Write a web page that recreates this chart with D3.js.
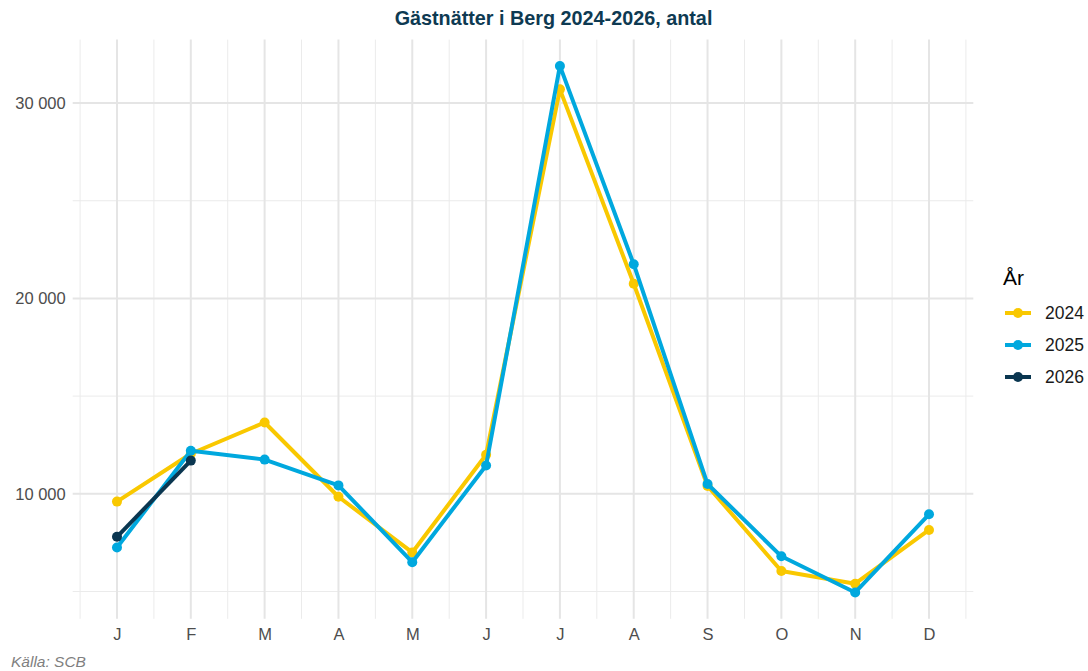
<!DOCTYPE html>
<html><head><meta charset="utf-8">
<script src="https://cdn.jsdelivr.net/npm/d3@7"></script>
<style>body{margin:0;background:#fff}svg{display:block;font-family:"Liberation Sans",Arial,sans-serif}</style>
</head><body><svg id="c" width="1088" height="671"></svg>
<script>
const months = ["J","F","M","A","M","J","J","A","S","O","N","D"];
const years = ["2024","2025","2026"];
const v2024 = [9600,12050,13650,9850,7000,12000,30700,20750,10400,6050,5400,8150];
const v2025 = [7250,12200,11750,10430,6500,11450,31900,21750,10500,6800,4950,8950];
const v2026 = [7800,11700];
const yTicks = [10000,20000,30000];
const yMinor = [5000,15000,25000];
const colors = ["#F9C800","#00A8DE","#0A3650"];
const seriesVals = [v2024, v2025, v2026];

const svg = d3.select("#c");
const L = 72.7, R = 973.3, T = 39.6, B = 618.8;
const x = d3.scaleLinear().domain([0.4, 12.6]).range([L, R]);
const allV = seriesVals.flat();
const lo = d3.min(allV), hi = d3.max(allV), pad = (hi - lo) * 0.05;
const y = d3.scaleLinear().domain([lo - pad, hi + pad]).range([B, T]);

const grid = svg.append("g");
d3.range(0.5, 13, 1).forEach(m => grid.append("line").attr("x1", x(m)).attr("x2", x(m)).attr("y1", T).attr("y2", B).attr("stroke", "#ebebeb").attr("stroke-width", 1));
yMinor.forEach(v => grid.append("line").attr("x1", L).attr("x2", R).attr("y1", y(v)).attr("y2", y(v)).attr("stroke", "#ebebeb").attr("stroke-width", 1));
d3.range(1, 13).forEach(m => grid.append("line").attr("x1", x(m)).attr("x2", x(m)).attr("y1", T).attr("y2", B).attr("stroke", "#e5e5e5").attr("stroke-width", 2));
yTicks.forEach(v => grid.append("line").attr("x1", L).attr("x2", R).attr("y1", y(v)).attr("y2", y(v)).attr("stroke", "#e5e5e5").attr("stroke-width", 2));

const yAxis = d3.axisLeft(y).tickValues(yTicks).tickSize(0).tickPadding(7).tickFormat(v => d3.format(",")(v).replace(/,/g, " "));
const gy = svg.append("g").attr("transform", `translate(${L},0)`).call(yAxis);
gy.select(".domain").remove();
gy.selectAll("text").attr("font-size", 16.5).attr("fill", "#4d4d4d").attr("font-family", "Liberation Sans, Arial, sans-serif");

const xAxis = d3.axisBottom(x).tickValues(d3.range(1, 13)).tickSize(0).tickPadding(9).tickFormat(i => months[i - 1]);
const gx = svg.append("g").attr("transform", `translate(0,${B})`).call(xAxis);
gx.select(".domain").remove();
gx.selectAll("text").attr("font-size", 16.5).attr("fill", "#4d4d4d").attr("font-family", "Liberation Sans, Arial, sans-serif");

const line = d3.line().x((d, i) => x(i + 1)).y(d => y(d));
seriesVals.forEach((vals, k) => {
  const g = svg.append("g");
  g.append("path").datum(vals).attr("d", line).attr("fill", "none").attr("stroke", colors[k]).attr("stroke-width", 4).attr("stroke-linejoin", "round");
  g.selectAll("circle").data(vals).join("circle").attr("cx", (d, i) => x(i + 1)).attr("cy", d => y(d)).attr("r", 5).attr("fill", colors[k]);
});

svg.append("text").attr("x", 553.5).attr("y", 25).attr("text-anchor", "middle").attr("font-size", 19.8).attr("font-weight", "bold").attr("fill", "#0E3A52").text("Gästnätter i Berg 2024-2026, antal");

const lg = svg.append("g");
lg.append("text").attr("x", 1003).attr("y", 285).attr("font-size", 21).attr("fill", "#000").text("År");
years.forEach((yr, k) => {
  const yy = 313 + k * 32;
  lg.append("line").attr("x1", 1005).attr("x2", 1031).attr("y1", yy).attr("y2", yy).attr("stroke", colors[k]).attr("stroke-width", 4);
  lg.append("circle").attr("cx", 1018).attr("cy", yy).attr("r", 5).attr("fill", colors[k]);
  lg.append("text").attr("x", 1045).attr("y", yy + 6).attr("font-size", 17.5).attr("fill", "#1a1a1a").text(yr);
});

svg.append("text").attr("x", 11).attr("y", 667).attr("font-size", 15.5).attr("font-style", "italic").attr("fill", "#7f7f7f").text("Källa: SCB");
</script></body></html>
